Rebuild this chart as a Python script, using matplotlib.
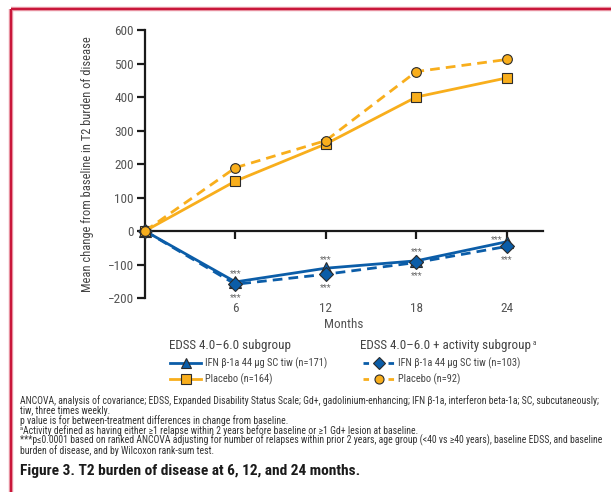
import matplotlib
matplotlib.use("Agg")
import matplotlib.pyplot as plt
from matplotlib.lines import Line2D

plt.rcParams['font.family'] = ['Roboto Condensed', 'DejaVu Sans']

# data
months = [0, 6, 12, 18, 24]
ifn_171 = [0, -152, -111, -89, -32]
ifn_103 = [0, -159, -129, -94, -46]
placebo_164 = [0, 149, 260, 400, 457]
placebo_92 = [0, 189, 270, 476, 512]
x_ticks = [6, 12, 18, 24]
y_ticks = [-200, -100, 0, 100, 200, 300, 400, 500, 600]

BLUE = "#0B5DA8"
ORANGE = "#F8AE1C"
EDGE = "#2b2b2b"
GREY = "#555555"

fig = plt.figure(figsize=(6.11, 4.92), dpi=100)
ax = fig.add_axes([0.2373, 0.3943, 0.6514, 0.5447])

ax.plot(months, ifn_171, color=BLUE, lw=2.0, marker="^", ms=8,
        mfc=BLUE, mec=EDGE, mew=0.8, zorder=3, clip_on=False)
ax.plot(months, ifn_103, color=BLUE, lw=2.0, ls=(0, (3.5, 2.2)), marker="D", ms=7.5,
        mfc=BLUE, mec=EDGE, mew=0.8, zorder=4, clip_on=False)
ax.plot(months, placebo_164, color=ORANGE, lw=2.0, marker="s", ms=7,
        mfc=ORANGE, mec=EDGE, mew=0.8, zorder=5, clip_on=False)
ax.plot(months, placebo_92, color=ORANGE, lw=2.0, ls=(0, (3.5, 2.2)), marker="o", ms=7,
        mfc=ORANGE, mec=EDGE, mew=0.8, zorder=6, clip_on=False)

# significance stars (the one at 24 months is moved left of the tick)
for i, m in enumerate(months[1:], start=1):
    off = (-7.5, -0.5) if m == 24 else (0, 4.5)
    ax.annotate("***", xy=(m, ifn_171[i]), xytext=off, textcoords="offset points",
                ha="center", va="baseline", fontsize=6.5, color="#666666")
    ax.annotate("***", xy=(m, ifn_103[i]), xytext=(0, -11.5), textcoords="offset points",
                ha="center", va="baseline", fontsize=6.5, color="#666666")

ax.set_xlim(0, 26.4)
ax.set_ylim(-200, 600)
ax.set_yticks(y_ticks)
ax.set_yticklabels([f"\u2212{abs(v)}" if v < 0 else str(v) for v in y_ticks])

for s in ["top", "right"]:
    ax.spines[s].set_visible(False)
ax.spines["left"].set_linewidth(1.6)
ax.spines["left"].set_color("#1a1a1a")
ax.spines["bottom"].set_position(("data", 0))
ax.spines["bottom"].set_linewidth(1.6)
ax.spines["bottom"].set_color("#1a1a1a")
ax.set_xticks(x_ticks)
ax.tick_params(axis="x", length=6, width=1.6, color="#1a1a1a", labelbottom=False)
ax.tick_params(axis="y", length=6, width=1.6, color="#1a1a1a", labelsize=9.5,
               labelcolor=GREY, pad=2)

# month labels sit below the plot, away from the zero line
sec = ax.secondary_xaxis("bottom")
sec.set_xticks(x_ticks)
sec.tick_params(length=0, labelsize=9.5, labelcolor=GREY, pad=3)
sec.spines["bottom"].set_visible(False)
sec.set_xlabel("Months", fontsize=9.5, color=GREY, labelpad=2)

ax.set_ylabel("Mean change from baseline in T2 burden of disease", fontsize=9, color="#444444")
ax.yaxis.set_label_coords(-0.128, 0.5)

# legends
h1 = [Line2D([], [], color=BLUE, lw=2, marker="^", ms=7, mfc=BLUE, mec=EDGE, mew=0.8),
      Line2D([], [], color=ORANGE, lw=2, marker="s", ms=6.5, mfc=ORANGE, mec=EDGE, mew=0.8)]
h2 = [Line2D([], [], color=BLUE, lw=2, ls=(0, (2, 2.5)), marker="D", ms=6.5, mfc=BLUE, mec=EDGE, mew=0.8),
      Line2D([], [], color=ORANGE, lw=2, ls=(0, (2, 2.5)), marker="o", ms=6.5, mfc=ORANGE, mec=EDGE, mew=0.8)]
fig.text(169 / 611, 1 - 345 / 492, "EDSS 4.0\u20136.0 subgroup", fontsize=9.4, color="#444444",
         ha="left", va="center")
hdr2 = fig.text(360 / 611, 1 - 345 / 492, "EDSS 4.0\u20136.0 + activity subgroup", fontsize=9.4,
                color="#444444", ha="left", va="center")
ax.annotate("a", xy=(1, 1), xycoords=hdr2, xytext=(1, -1), textcoords="offset points",
            ha="left", va="top", fontsize=5, color="#444444", annotation_clip=False)
fig.legend(h1, ["IFN \u03b2-1a 44 \u00b5g SC tiw (n=171)", "Placebo (n=164)"],
           loc="upper left", bbox_to_anchor=(165 / 611, 1 - 352 / 492), frameon=False,
           fontsize=7.5, handlelength=3.0, handletextpad=0.3, labelspacing=0.45,
           borderpad=0, labelcolor="#444444")
fig.legend(h2, ["IFN \u03b2-1a 44 \u00b5g SC tiw (n=103)", "Placebo (n=92)"],
           loc="upper left", bbox_to_anchor=(358 / 611, 1 - 352 / 492), frameon=False,
           fontsize=7.5, handlelength=3.0, handletextpad=0.3, labelspacing=0.45,
           borderpad=0, labelcolor="#444444")

# footnotes
notes = [
    "ANCOVA, analysis of covariance; EDSS, Expanded Disability Status Scale; Gd+, gadolinium-enhancing; "
    "IFN \u03b2-1a, interferon beta-1a; SC, subcutaneously;",
    "tiw, three times weekly.",
    "p value is for between-treatment differences in change from baseline.",
    "Activity defined as having either \u22651 relapse within 2 years before baseline "
    "or \u22651 Gd+ lesion at baseline.",
    "***p\u22640.0001 based on ranked ANCOVA adjusting for number of relapses within prior 2 years, "
    "age group (<40 vs \u226540 years), baseline EDSS, and baseline",
    "burden of disease, and by Wilcoxon rank-sum test.",
]
for k, line in enumerate(notes):
    yy = 1 - (401 + k * 9.9) / 492
    x0 = 20
    if line.startswith("Activity"):
        fig.text(20 / 611, yy + 2.5 / 492, "a", fontsize=4.5, color="#333333", ha="left", va="center")
        x0 = 23
    fig.text(x0 / 611, yy, line, fontsize=7.0, color="#333333", ha="left", va="center")

fig.text(20 / 611, 1 - 471 / 492, "Figure 3. T2 burden of disease at 6, 12, and 24 months.",
         fontsize=11.1, fontweight="bold", color="#1a1a1a", ha="left", va="center")

# red frame on left and top
for lw, col in [(3.2, "#EBA0AC"), (1.6, "#C8173A")]:
    fig.add_artist(Line2D([11 / 611, 11 / 611], [0, 1 - 9 / 492], transform=fig.transFigure,
                          color=col, lw=lw, solid_capstyle="butt"))
    fig.add_artist(Line2D([11 / 611, 1], [1 - 9 / 492, 1 - 9 / 492], transform=fig.transFigure,
                          color=col, lw=lw, solid_capstyle="butt"))

fig.savefig("out.png", dpi=100)
